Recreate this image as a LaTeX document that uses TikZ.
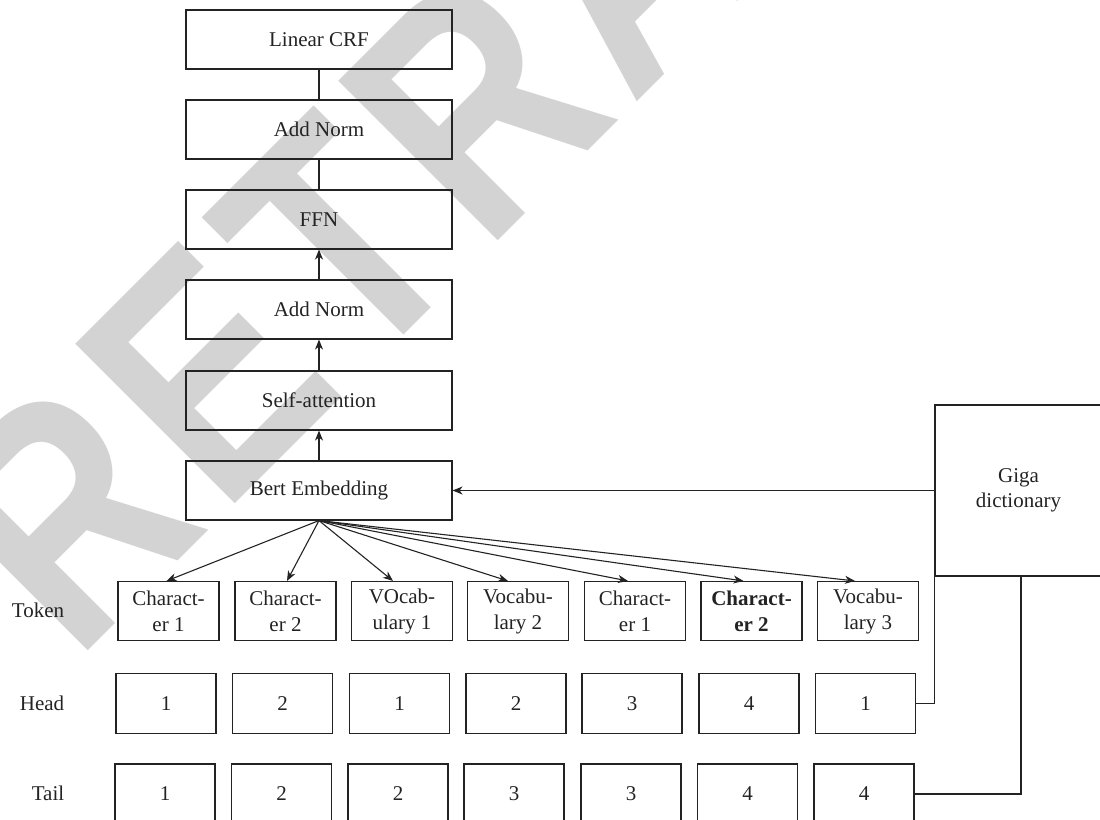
\documentclass[tikz,border=0pt]{standalone}
\usepackage{fontspec}
\setmainfont{Liberation Serif}
\newfontfamily\wmfont[FakeStretch=0.82]{Liberation Sans}
\usetikzlibrary{arrows.meta}
\definecolor{wm}{RGB}{211,211,211}
\definecolor{ink}{RGB}{35,35,35}
\begin{document}
\begin{tikzpicture}[x=1pt,y=-1pt,
  every node/.style={font=\fontsize{21}{26}\selectfont, inner sep=0pt, text=ink},
  stackbox/.style={draw=ink, line width=1.1pt, minimum width=266pt, minimum height=59pt},
  tokbox/.style={draw=ink, line width=1.1pt, minimum width=101pt, minimum height=59pt, align=center},
  numbox/.style={draw=ink, line width=1.1pt, minimum width=100pt, minimum height=60pt},
  conn/.style={draw=ink, line width=1.1pt},
  arr/.style={draw=ink, line width=1.1pt, -{Stealth[length=10pt,width=8pt,inset=3pt]}},
  rowlabel/.style={}
]
\useasboundingbox (0,0) rectangle (1100,819);
% watermark
\node[rotate=45, anchor=base west, text=wm, font=\wmfont\bfseries\fontsize{328}{328}\selectfont] (wmark) at (75.5,663.5) {R\kern14pt E\kern14pt T\kern14pt R\kern14pt A\kern14pt C\kern14pt T\kern14pt E\kern14pt D};

% stack
\node[stackbox] (crf)  at (319,39.5)  {Linear CRF};
\node[stackbox] (an1)  at (319,129.5) {Add Norm};
\node[stackbox] (ffn)  at (319,219.5) {FFN};
\node[stackbox] (an2)  at (319,309.5) {Add Norm};
\node[stackbox] (sa)   at (319,400.5) {Self-attention};
\node[stackbox] (bert) at (319,490.5) {Bert Embedding};

% dictionary
\node[draw=ink, line width=1.1pt, minimum width=167pt, minimum height=171pt, align=center, font=\fontsize{21}{25}\selectfont] (giga) at (1018.5,490.5) {Giga\\dictionary};

% row labels
\node[rowlabel] (ltoken) at (38,610) {Token};
\node[rowlabel] (lhead)  at (42,703) {Head};
\node[rowlabel] (ltail)  at (48,793) {Tail};

% tokens
\node[tokbox] (t1) at (168.5,611) {Charact-\\er 1};
\node[tokbox] (t2) at (285.5,611) {Charact-\\er 2};
\node[tokbox] (t3) at (402,611)   {VOcab-\\ulary 1};
\node[tokbox] (t4) at (518,611)   {Vocabu-\\lary 2};
\node[tokbox] (t5) at (635,611)   {Charact-\\er 1};
\node[tokbox, font=\fontsize{21}{26}\selectfont\bfseries] (t6) at (751.5,611) {Charact-\\er 2};
\node[tokbox] (t7) at (868,611)   {Vocabu-\\lary 3};

% head
\node[numbox] (h1) at (166,703.5)   {1};
\node[numbox] (h2) at (282.5,703.5) {2};
\node[numbox] (h3) at (399.5,703.5) {1};
\node[numbox] (h4) at (516,703.5)   {2};
\node[numbox] (h5) at (632,703.5)   {3};
\node[numbox] (h6) at (749,703.5)   {4};
\node[numbox] (h7) at (865.5,703.5) {1};

% tail
\node[numbox] (s1) at (165,794)   {1};
\node[numbox] (s2) at (281.5,794) {2};
\node[numbox] (s3) at (398,794)   {2};
\node[numbox] (s4) at (514,794)   {3};
\node[numbox] (s5) at (631,794)   {3};
\node[numbox] (s6) at (747.5,794) {4};
\node[numbox] (s7) at (864,794)   {4};

% stack connectors
\draw[conn] (crf.south) -- (an1.north);
\draw[conn] (an1.south) -- (ffn.north);
\draw[arr] (an2.north) -- (ffn.south);
\draw[arr] (sa.north) -- (an2.south);
\draw[arr] (bert.north) -- (sa.south);
\draw[arr] (giga.west) -- (bert.east);

% fan-out
\draw[arr] (bert.south) -- ([xshift=-2pt]t1.north);
\draw[arr] (bert.south) -- ([xshift=1.5pt]t2.north);
\draw[arr] (bert.south) -- ([xshift=-9pt]t3.north);
\draw[arr] (bert.south) -- ([xshift=-10pt]t4.north);
\draw[arr] (bert.south) -- ([xshift=-7pt]t5.north);
\draw[arr] (bert.south) -- ([xshift=-8pt]t6.north);
\draw[arr] (bert.south) -- ([xshift=-13pt]t7.north);

% dictionary links
\draw[conn] (h7.east) -| (giga.south west);
\draw[conn] (s7.east) -| ([xshift=2.5pt]giga.south);
\end{tikzpicture}
\end{document}
